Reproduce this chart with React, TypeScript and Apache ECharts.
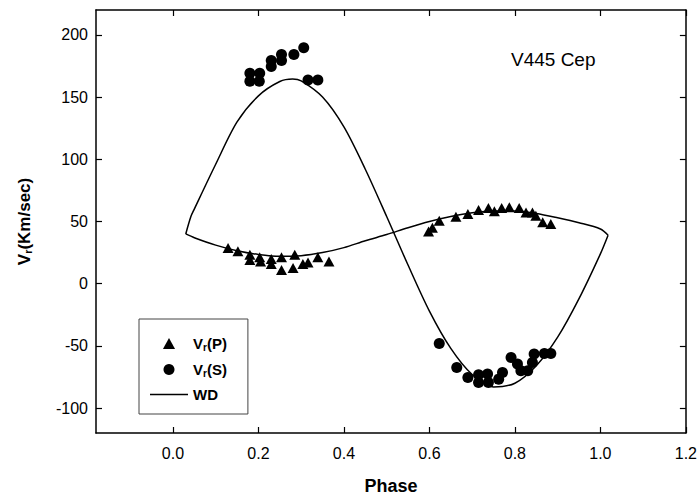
import React, { useEffect, useRef } from "react";
import * as echarts from "echarts";

// Observed radial velocities [phase, km/s]
const primaryRV: [number, number][] = [
  [0.129, 28.7], [0.152, 26.0], [0.18, 23.3], [0.18, 19.1], [0.203, 21.2],
  [0.205, 17.9], [0.23, 19.9], [0.23, 15.8], [0.254, 21.2], [0.254, 11.0],
  [0.285, 23.3], [0.281, 12.6], [0.304, 15.8], [0.316, 17.1], [0.339, 21.2],
  [0.365, 17.9],
  [0.598, 42.0], [0.607, 45.0], [0.623, 50.7], [0.662, 53.9], [0.69, 56.1],
  [0.715, 59.3], [0.738, 60.9], [0.752, 58.2], [0.769, 60.9], [0.787, 61.4],
  [0.81, 60.9], [0.826, 57.3], [0.841, 57.3], [0.849, 54.7], [0.865, 49.3],
  [0.884, 48.0],
];

const secondaryRV: [number, number][] = [
  [0.18, 169.1], [0.18, 162.7], [0.203, 169.1], [0.202, 162.7], [0.23, 174.5],
  [0.23, 179.4], [0.254, 184.2], [0.254, 179.4], [0.283, 184.2], [0.306, 189.6],
  [0.316, 163.8], [0.339, 163.8],
  [0.623, -48.0], [0.664, -67.3], [0.69, -75.4], [0.715, -73.2], [0.715, -79.4],
  [0.736, -72.6], [0.738, -79.4], [0.762, -76.7], [0.771, -71.3], [0.791, -59.3],
  [0.806, -64.6], [0.814, -70.0], [0.83, -70.0], [0.841, -63.3], [0.845, -56.5],
  [0.869, -56.1], [0.884, -56.1],
];

// WD model curves
const wdPrimary: [number, number][] = [
  [0.03, 40], [0.05, 37], [0.1, 31], [0.15, 26.5], [0.2, 23.5], [0.25, 22],
  [0.3, 22.5], [0.35, 25], [0.4, 29], [0.45, 34.5], [0.5, 39.5], [0.55, 45],
  [0.6, 50], [0.65, 54], [0.7, 57], [0.75, 58.5], [0.8, 58.5], [0.85, 56.5],
  [0.9, 53], [0.95, 49], [1.0, 44], [1.018, 39],
];

const wdSecondary: [number, number][] = [
  [0.03, 40], [0.042, 54], [0.05, 60], [0.1, 96], [0.15, 130], [0.2, 151],
  [0.25, 162.5], [0.28, 164.5], [0.3, 163], [0.35, 150], [0.4, 126],
  [0.45, 92], [0.5, 54], [0.55, 15], [0.6, -22], [0.65, -52], [0.7, -73],
  [0.75, -83], [0.8, -80], [0.85, -66], [0.9, -43], [0.95, -12], [1.0, 24],
  [1.018, 39],
];

const xTicks = [0, 0.2, 0.4, 0.6, 0.8, 1.0, 1.2];
const yTicks = [-100, -50, 0, 50, 100, 150, 200];

const FONT = "Liberation Sans, Arial, sans-serif";

export default function App() {
  const ref = useRef<HTMLDivElement>(null);
  useEffect(() => {
    if (!ref.current) return;
    const chart = echarts.init(ref.current, null, { renderer: "svg" });
    const axisLine = { onZero: false, lineStyle: { color: "#000", width: 1.5 } };
    const tickStyle = { color: "#000", width: 1.2 };
    const rich = {
      b: { fontSize: 15, fontWeight: "bold", fontFamily: FONT, color: "#000", lineHeight: 18 },
      s: { fontSize: 10, fontWeight: "bold", fontFamily: FONT, color: "#000", lineHeight: 18, padding: [7, 0, 0, 0] },
    };
    chart.setOption({
      animation: false,
      backgroundColor: "#fff",
      textStyle: { fontFamily: FONT },
      title: {
        text: "V445 Cep",
        left: 506,
        top: 45,
        textStyle: { fontSize: 19, fontWeight: "normal", color: "#000", fontFamily: FONT },
      },
      grid: { left: 96, right: 13, top: 10, bottom: 67, containLabel: false },
      legend: {
        orient: "vertical",
        left: 139,
        top: 319,
        padding: [16, 21, 12, 11],
        itemGap: 9,
        itemWidth: 38,
        itemHeight: 11,
        symbolKeepAspect: true,
        borderColor: "#444",
        borderWidth: 1,
        data: [
          { name: "Vr(P)", icon: "path://M5,0 L10.5,10 L-0.5,10 Z", itemStyle: { color: "#000", opacity: 1 } },
          { name: "Vr(S)", icon: "circle", itemStyle: { color: "#000", opacity: 1 } },
          { name: "WD", icon: "path://M0,0 L38,0 L38,1.5 L0,1.5 Z", itemStyle: { color: "#000", opacity: 1 } },
        ],
        formatter: (name: string) =>
          name === "WD" ? "{b|WD}" : "{b|V}{s|r}{b|" + name.slice(2) + "}",
        textStyle: { rich },
      },
      xAxis: [
        {
          type: "value",
          min: -0.18,
          max: 1.2,
          position: "bottom",
          axisLine,
          axisTick: { inside: true, length: 6, customValues: xTicks, lineStyle: tickStyle },
          axisLabel: {
            customValues: xTicks,
            formatter: (v: number) => v.toFixed(1),
            color: "#000",
            fontSize: 16,
            fontFamily: FONT,
            margin: 12,
          },
          splitLine: { show: false },
          name: "Phase",
          nameLocation: "middle",
          nameGap: 44,
          nameTextStyle: { fontWeight: "bold", fontSize: 18, color: "#000", fontFamily: FONT },
        },
        {
          type: "value",
          min: -0.18,
          max: 1.2,
          position: "top",
          axisLine,
          axisTick: { inside: true, length: 6, customValues: xTicks, lineStyle: tickStyle },
          axisLabel: { show: false },
          splitLine: { show: false },
        },
      ],
      yAxis: [
        {
          type: "value",
          min: -120,
          max: 220,
          position: "left",
          axisLine,
          axisTick: { inside: true, length: 6, customValues: yTicks, lineStyle: tickStyle },
          axisLabel: { customValues: yTicks, color: "#000", fontSize: 16, fontFamily: FONT, margin: 8 },
          splitLine: { show: false },
          name: "{b|V}{s|r}{b|(Km/sec)}",
          nameLocation: "middle",
          nameRotate: 90,
          nameGap: 62,
          nameTextStyle: {
            rich: {
              b: { fontSize: 17, fontWeight: "bold", fontFamily: FONT, color: "#000", lineHeight: 20 },
              s: { fontSize: 11, fontWeight: "bold", fontFamily: FONT, color: "#000", lineHeight: 20, padding: [8, 0, 0, 0] },
            },
          },
        },
        {
          type: "value",
          min: -120,
          max: 220,
          position: "right",
          axisLine,
          axisTick: { inside: true, length: 6, customValues: yTicks, lineStyle: tickStyle },
          axisLabel: { show: false },
          splitLine: { show: false },
        },
      ],
      series: [
        {
          name: "Vr(P)",
          type: "scatter",
          symbol: "triangle",
          symbolSize: [11, 10],
          itemStyle: { color: "#000", opacity: 1 },
          data: primaryRV,
          z: 3,
        },
        {
          name: "Vr(S)",
          type: "scatter",
          symbol: "circle",
          symbolSize: 11,
          itemStyle: { color: "#000", opacity: 1 },
          data: secondaryRV,
          z: 3,
        },
        {
          name: "WD",
          type: "line",
          symbol: "none",
          smooth: 0.3,
          lineStyle: { color: "#000", width: 1.5 },
          itemStyle: { color: "#000" },
          data: wdPrimary,
          z: 2,
        },
        {
          name: "WD",
          type: "line",
          symbol: "none",
          smooth: 0.3,
          lineStyle: { color: "#000", width: 1.5 },
          itemStyle: { color: "#000" },
          data: wdSecondary,
          z: 2,
        },
      ],
    });
    return () => chart.dispose();
  }, []);
  return <div ref={ref} style={{ width: 700, height: 500, position: "absolute", left: 0, top: 0 }} />;
}
